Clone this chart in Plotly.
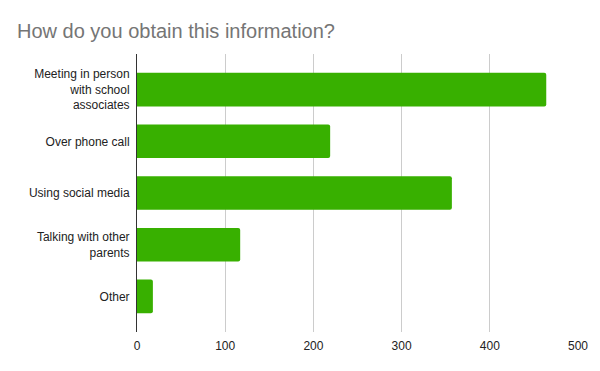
import plotly.graph_objects as go

categories = [
    "Meeting in person<br>with school<br>associates",
    "Over phone call",
    "Using social media",
    "Talking with other<br>parents",
    "Other",
]
values = [464, 219, 357, 117, 18]
x_ticks = [0, 100, 200, 300, 400, 500]

fig = go.Figure(
    go.Bar(
        x=values,
        y=categories,
        orientation="h",
        marker=dict(color="#38b000", line=dict(width=0)),
        width=0.65,
    )
)

fig.update_layout(
    width=600,
    height=371,
    margin=dict(l=137, r=18, t=54, b=39),
    paper_bgcolor="white",
    plot_bgcolor="white",
    barcornerradius=2,
    showlegend=False,
    title=dict(
        text="How do you obtain this information?",
        x=17 / 600,
        xanchor="left",
        y=1 - 31 / 371,
        yanchor="middle",
        font=dict(family="Liberation Sans, Arial", size=20, color="#757575"),
    ),
    font=dict(family="Liberation Sans, Arial", size=12, color="#222222"),
)

fig.update_xaxes(
    range=[0, 500],
    tickvals=x_ticks,
    ticktext=[str(v) for v in x_ticks],
    showgrid=True,
    gridcolor="#cccccc",
    gridwidth=1,
    zeroline=False,
    showline=False,
    ticks="",
    ticklabelstandoff=5,
    tickfont=dict(size=12, color="#222222"),
)

fig.update_yaxes(
    type="category",
    categoryorder="array",
    categoryarray=categories,
    range=[4.69, -0.69],
    showgrid=False,
    zeroline=False,
    showline=True,
    linecolor="#333333",
    linewidth=1,
    ticks="",
    ticklabelstandoff=4,
    tickfont=dict(size=12, color="#222222"),
)

fig.write_html("out.html")
